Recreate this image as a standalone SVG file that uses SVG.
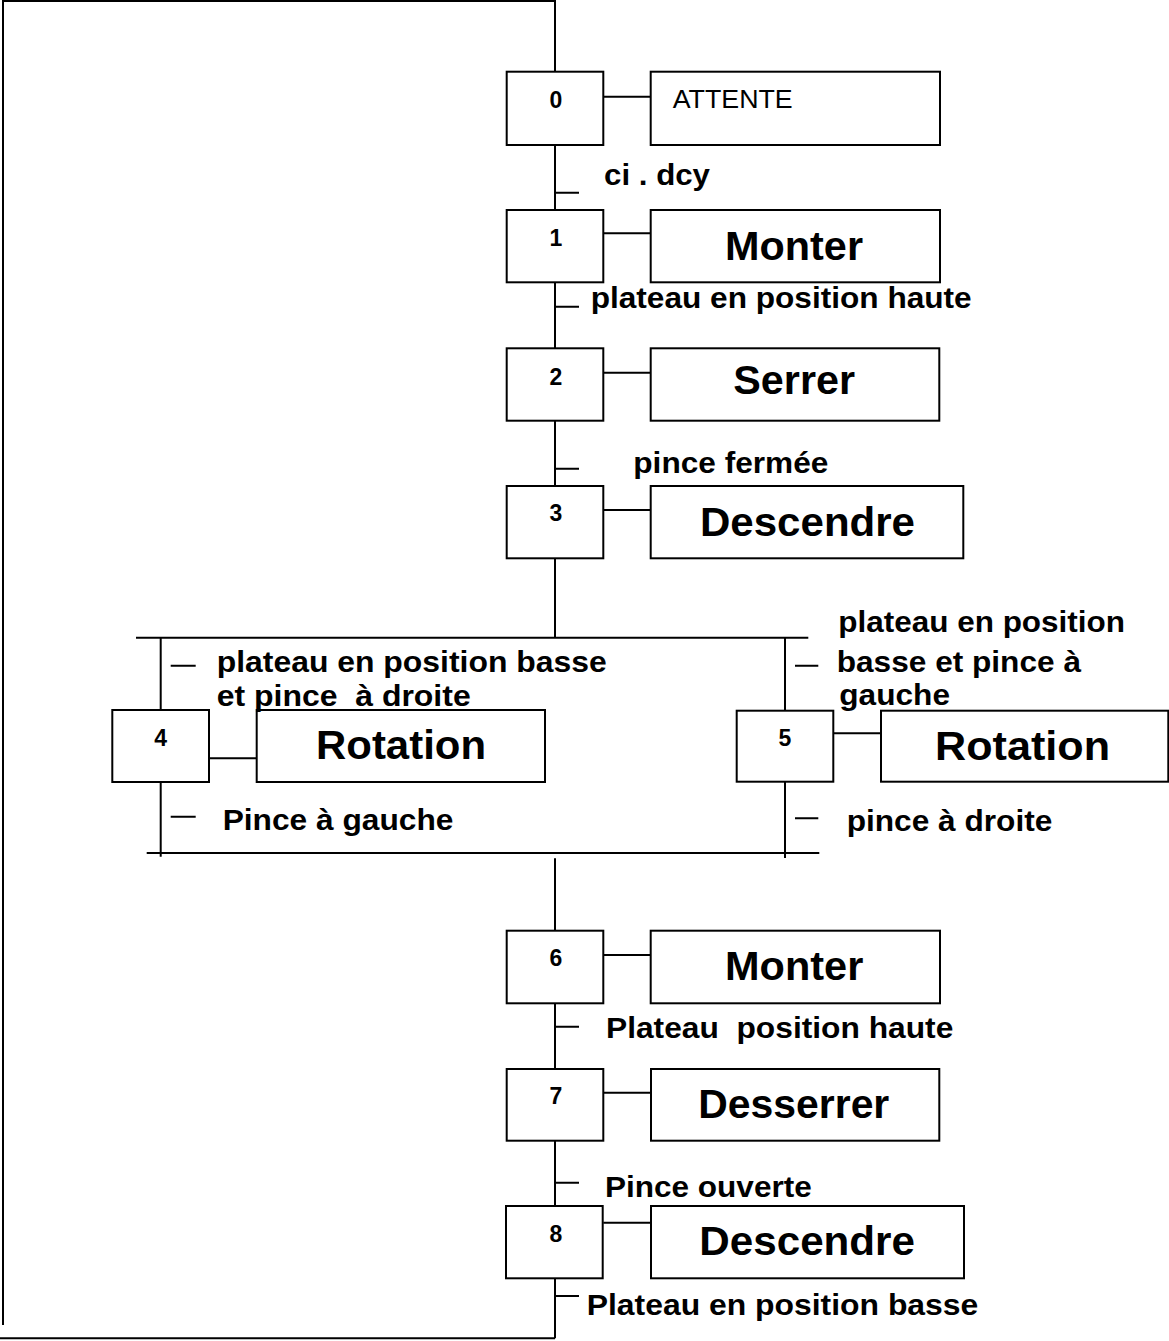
<svg xmlns="http://www.w3.org/2000/svg" width="1169" height="1341" viewBox="0 0 1169 1341">
<style>
.box{fill:#fff;stroke:#000;stroke-width:2}
.ln{fill:none;stroke:#000;stroke-width:2}
.num{font-family:"Liberation Sans",Arial,sans-serif;font-weight:bold;font-size:23px;text-anchor:middle;fill:#000}
.act{font-family:"Liberation Sans",Arial,sans-serif;font-weight:bold;font-size:41px;fill:#000}
.cond{font-family:"Liberation Sans",Arial,sans-serif;font-weight:bold;font-size:29px;fill:#000;white-space:pre}
.plain{font-family:"Liberation Sans",Arial,sans-serif;font-size:25px;fill:#000}
</style>
<rect width="1169" height="1341" fill="#fff"/>
<g id="connectors" class="ln">
<path d="M2 1H555M3 0V1325M0 1338.3H555"/>
<path d="M555 0V72M555 145V210M555 282V348M555 421V486M555 558V638"/>
<path d="M136 637.7H808.3M160.7 637.7V710M160.7 782V856.7M785 637.7V710.7M785 781.7V858M146.7 853H819.3"/>
<path d="M555 858.3V930.7M555 1003.3V1069M555 1140.7V1206M555 1273.3V1338.3"/>
<path d="M555 192.7H579M555 306.7H579M555 468.7H579M170.7 665.7H195.7M170.7 816.7H195.7M795 665.7H818.3M795 818.3H818.3M555 1026.7H579M555 1182.7H579M555 1296H579"/>
<path d="M603.3 96.7H650.7M603.3 233.3H650.7M603.3 372.7H650.7M603.3 510H650.7M209 758.3H256.7M833.3 733.3H881M603.3 955H650.7M603.3 1092.7H651M603.3 1222.7H651"/>
</g>
<g id="step0"><rect class="box" x="506.7" y="71.7" width="96.6" height="73.3"/><text class="num" x="556" y="108">0</text></g>
<g id="action0"><rect class="box" x="650.7" y="71.7" width="289.3" height="73.3"/><text class="plain" x="672.7" y="108" textLength="120" lengthAdjust="spacingAndGlyphs">ATTENTE</text></g>
<g id="step1"><rect class="box" x="506.7" y="210" width="96.6" height="72.3"/><text class="num" x="556" y="245.7">1</text></g>
<g id="action1"><rect class="box" x="650.7" y="210" width="289.3" height="72.3"/><text class="act" x="725" y="260" textLength="138" lengthAdjust="spacingAndGlyphs">Monter</text></g>
<g id="step2"><rect class="box" x="506.7" y="348.3" width="96.6" height="72.4"/><text class="num" x="556" y="384.5">2</text></g>
<g id="action2"><rect class="box" x="650.7" y="348.3" width="288.6" height="72.4"/><text class="act" x="733.3" y="393.5" textLength="121.7" lengthAdjust="spacingAndGlyphs">Serrer</text></g>
<g id="step3"><rect class="box" x="506.7" y="486" width="96.6" height="72.3"/><text class="num" x="556" y="520.7">3</text></g>
<g id="action3"><rect class="box" x="650.7" y="486" width="312.6" height="72.3"/><text class="act" x="700" y="536" textLength="215" lengthAdjust="spacingAndGlyphs">Descendre</text></g>
<g id="step4"><rect class="box" x="112.3" y="710" width="96.7" height="72"/><text class="num" x="160.7" y="745.7">4</text></g>
<g id="action4"><rect class="box" x="256.7" y="710" width="288.3" height="72"/><text class="act" x="316" y="759.3" textLength="170" lengthAdjust="spacingAndGlyphs">Rotation</text></g>
<g id="step5"><rect class="box" x="736.7" y="710.7" width="96.6" height="71"/><text class="num" x="785" y="745.7">5</text></g>
<g id="action5"><rect class="box" x="881" y="710.7" width="287.3" height="71"/><text class="act" x="935" y="760" textLength="175" lengthAdjust="spacingAndGlyphs">Rotation</text></g>
<g id="step6"><rect class="box" x="506.7" y="930.7" width="96.6" height="72.6"/><text class="num" x="556" y="966">6</text></g>
<g id="action6"><rect class="box" x="650.7" y="930.7" width="289.3" height="72.6"/><text class="act" x="725" y="980" textLength="138.3" lengthAdjust="spacingAndGlyphs">Monter</text></g>
<g id="step7"><rect class="box" x="506.7" y="1069" width="96.6" height="71.7"/><text class="num" x="556" y="1104">7</text></g>
<g id="action7"><rect class="box" x="651" y="1069" width="288.3" height="71.7"/><text class="act" x="698.3" y="1118.3" textLength="191" lengthAdjust="spacingAndGlyphs">Desserrer</text></g>
<g id="step8"><rect class="box" x="506" y="1206" width="96.7" height="72.3"/><text class="num" x="556" y="1241.7">8</text></g>
<g id="action8"><rect class="box" x="651" y="1206" width="313" height="72.3"/><text class="act" x="699.3" y="1255" textLength="215.7" lengthAdjust="spacingAndGlyphs">Descendre</text></g>
<g id="conditions">
<text class="cond" x="604" y="185" textLength="106" lengthAdjust="spacingAndGlyphs">ci . dcy</text>
<text class="cond" x="590.7" y="308.3" textLength="381" lengthAdjust="spacingAndGlyphs">plateau en position haute</text>
<text class="cond" x="633.3" y="473" textLength="195" lengthAdjust="spacingAndGlyphs">pince fermée</text>
<text class="cond" x="216.7" y="671.7" textLength="390" lengthAdjust="spacingAndGlyphs">plateau en position basse</text>
<text class="cond" x="216.7" y="706" textLength="254" lengthAdjust="spacingAndGlyphs">et pince  à droite</text>
<text class="cond" x="222.7" y="830" textLength="230.7" lengthAdjust="spacingAndGlyphs">Pince à gauche</text>
<text class="cond" x="838.3" y="631.7" textLength="286.7" lengthAdjust="spacingAndGlyphs">plateau en position</text>
<text class="cond" x="836.7" y="671.7" textLength="244.3" lengthAdjust="spacingAndGlyphs">basse et pince à</text>
<text class="cond" x="839.3" y="705" textLength="110.7" lengthAdjust="spacingAndGlyphs">gauche</text>
<text class="cond" x="846.7" y="830.7" textLength="205.6" lengthAdjust="spacingAndGlyphs">pince à droite</text>
<text class="cond" x="606" y="1038.3" textLength="347.3" lengthAdjust="spacingAndGlyphs">Plateau  position haute</text>
<text class="cond" x="605" y="1196.7" textLength="206.7" lengthAdjust="spacingAndGlyphs">Pince ouverte</text>
<text class="cond" x="586.7" y="1315" textLength="391.6" lengthAdjust="spacingAndGlyphs">Plateau en position basse</text>
</g>
</svg>
